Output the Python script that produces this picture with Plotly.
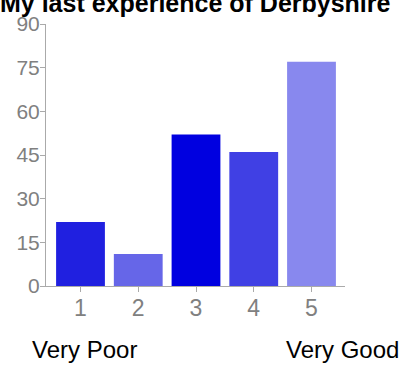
import plotly.graph_objects as go

# Survey responses per rating (1 = Very Poor, 5 = Very Good)
ratings = [1, 2, 3, 4, 5]
rating_labels = ["1", "2", "3", "4", "5"]
counts = [22, 11, 52, 46, 77]
bar_colors = ["#2020E0", "#6666E8", "#0000E0", "#4040E4", "#8888EE"]
y_ticks = [0, 15, 30, 45, 60, 75, 90]

title_text = "My last experience of Derbyshire"
low_label = "Very Poor"
high_label = "Very Good"

font_family = "Arial, Liberation Sans, sans-serif"
axis_gray = "#AAAAAA"
tick_gray = "#808080"

fig = go.Figure(
    go.Bar(
        x=ratings,
        y=counts,
        width=0.845,
        marker=dict(color=bar_colors, line=dict(width=0)),
        hoverinfo="x+y",
    )
)


def text_note(text, x, y, size, bold=False):
    return dict(
        text=f"<b>{text}</b>" if bold else text,
        xref="paper",
        yref="paper",
        x=x,
        y=y,
        xanchor="center",
        yanchor="middle",
        showarrow=False,
        font=dict(family=font_family, size=size, color="black"),
    )


fig.update_layout(
    width=406,
    height=369,
    margin=dict(l=46, r=61, t=15, b=83),
    paper_bgcolor="white",
    plot_bgcolor="white",
    showlegend=False,
    font=dict(family=font_family),
    xaxis=dict(
        range=[0.4026, 5.58],
        tickmode="array",
        tickvals=ratings,
        ticktext=rating_labels,
        showgrid=False,
        zeroline=False,
        showline=True,
        linecolor=axis_gray,
        linewidth=1,
        ticks="outside",
        ticklen=5,
        tickcolor=axis_gray,
        ticklabelstandoff=-4,
        tickfont=dict(family=font_family, size=23, color=tick_gray),
    ),
    yaxis=dict(
        range=[0, 90],
        tickmode="array",
        tickvals=y_ticks,
        showgrid=False,
        zeroline=False,
        showline=True,
        linecolor=axis_gray,
        linewidth=1,
        ticks="outside",
        ticklen=5,
        tickcolor=axis_gray,
        ticklabelstandoff=-4,
        tickfont=dict(family=font_family, size=21, color=tick_gray),
    ),
    annotations=[
        text_note(title_text, 0.5, 1.080, 25, bold=True),
        text_note(low_label, 0.130, -0.2435, 24),
        text_note(high_label, 0.993, -0.2435, 24),
    ],
)

fig.write_html("out.html")
